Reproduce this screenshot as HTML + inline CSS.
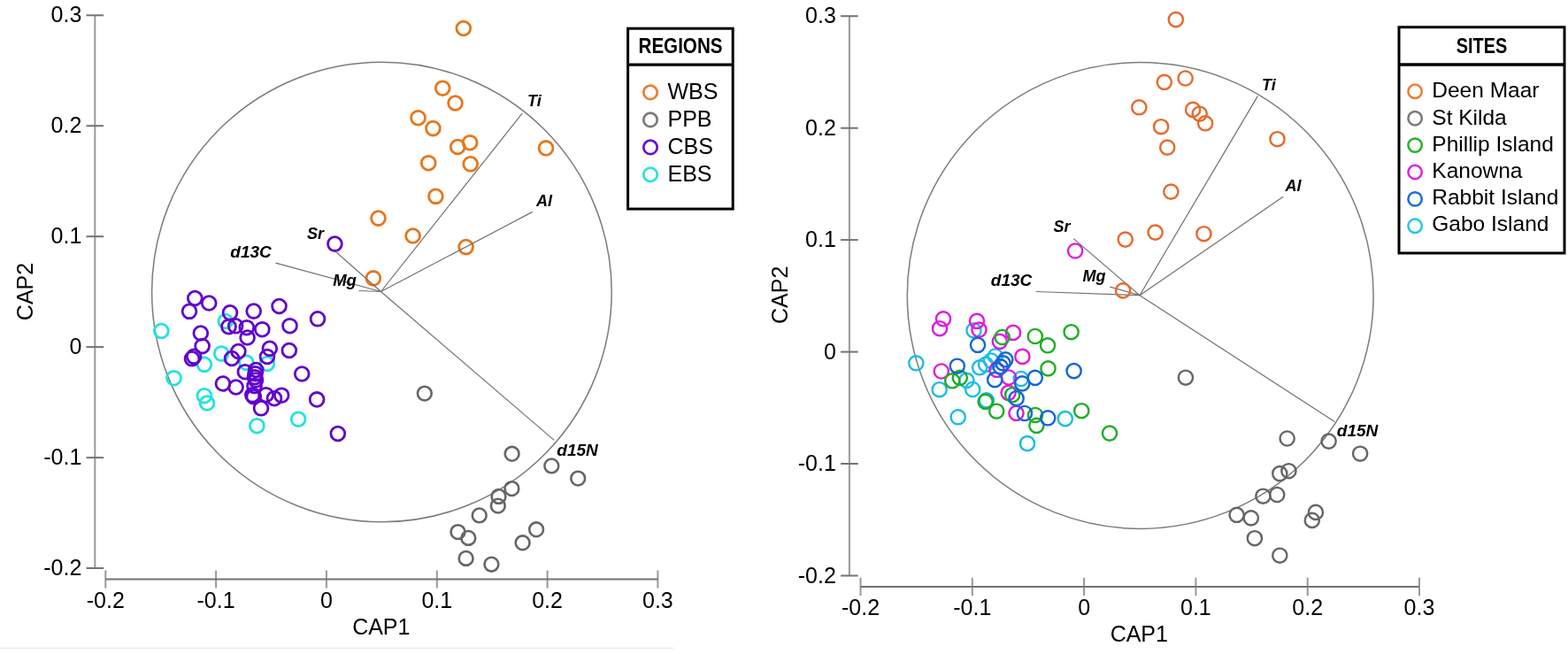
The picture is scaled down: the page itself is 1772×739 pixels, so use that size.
<!DOCTYPE html>
<html><head><meta charset="utf-8"><title>CAP ordination plots</title>
<style>html,body{margin:0;padding:0;background:#fff;}body{width:1772px;height:739px;overflow:hidden;}svg{display:block;font-family:"Liberation Sans",sans-serif;}</style>
</head><body>
<svg width="1772" height="739" viewBox="0 0 1772 739">
<rect width="1772" height="739" fill="#fff"/>
<line x1="0" y1="732.3" x2="762" y2="732.3" stroke="#ececec" stroke-width="1.2"/>
<g stroke="#999999" stroke-width="2" fill="none">
<line x1="107.3" y1="17.3" x2="107.3" y2="642"/>
<line x1="119.3" y1="644.6" x2="119.3" y2="664.6"/>
<line x1="244.1" y1="644.6" x2="244.1" y2="664.6"/>
<line x1="368.9" y1="644.6" x2="368.9" y2="664.6"/>
<line x1="493.8" y1="644.6" x2="493.8" y2="664.6"/>
<line x1="618.6" y1="644.6" x2="618.6" y2="664.6"/>
<line x1="743.4" y1="644.6" x2="743.4" y2="664.6"/>
</g>
<g stroke="#737373" stroke-width="2" fill="none">
<line x1="97.5" y1="17.3" x2="117.1" y2="17.3"/>
<line x1="97.5" y1="142.2" x2="117.1" y2="142.2"/>
<line x1="97.5" y1="267.2" x2="117.1" y2="267.2"/>
<line x1="97.5" y1="392.1" x2="117.1" y2="392.1"/>
<line x1="97.5" y1="517.1" x2="117.1" y2="517.1"/>
<line x1="97.5" y1="642" x2="117.1" y2="642"/>
<line x1="119.3" y1="654.6" x2="743.4" y2="654.6"/>
</g>
<g font-size="25" fill="#000">
<text x="92.3" y="25.3" text-anchor="end">0.3</text>
<text x="92.3" y="150.2" text-anchor="end">0.2</text>
<text x="92.3" y="275.2" text-anchor="end">0.1</text>
<text x="92.3" y="400.1" text-anchor="end">0</text>
<text x="92.3" y="525.1" text-anchor="end">-0.1</text>
<text x="92.3" y="650" text-anchor="end">-0.2</text>
<text x="119.3" y="686.7" text-anchor="middle">-0.2</text>
<text x="244.1" y="686.7" text-anchor="middle">-0.1</text>
<text x="368.9" y="686.7" text-anchor="middle">0</text>
<text x="493.8" y="686.7" text-anchor="middle">0.1</text>
<text x="618.6" y="686.7" text-anchor="middle">0.2</text>
<text x="743.4" y="686.7" text-anchor="middle">0.3</text>
</g>
<text x="430.8" y="716.8" font-size="25" text-anchor="middle">CAP1</text>
<text x="0" y="0" font-size="25" text-anchor="middle" transform="translate(37.3 329.5) rotate(-90)">CAP2</text>
<circle cx="431.4" cy="330" r="259.8" fill="none" stroke="#7c7c7c" stroke-width="1.5"/>
<g fill="none" stroke="#e8761a" stroke-width="2.8">
<circle cx="523.8" cy="32" r="7.9"/>
<circle cx="500.2" cy="99.7" r="7.9"/>
<circle cx="514.5" cy="116.5" r="7.9"/>
<circle cx="472.5" cy="133.2" r="7.9"/>
<circle cx="489.4" cy="145.1" r="7.9"/>
<circle cx="517.2" cy="166" r="7.9"/>
<circle cx="531.1" cy="161.2" r="7.9"/>
<circle cx="617" cy="167.4" r="7.9"/>
<circle cx="484.2" cy="184.2" r="7.9"/>
<circle cx="531.7" cy="185.3" r="7.9"/>
<circle cx="492.4" cy="221.8" r="7.9"/>
<circle cx="427.5" cy="246.6" r="7.9"/>
<circle cx="466.6" cy="266.5" r="7.9"/>
<circle cx="526.6" cy="279.1" r="7.9"/>
<circle cx="421.9" cy="314.4" r="7.9"/>
</g>
<g fill="none" stroke="#666666" stroke-width="2.6">
<circle cx="479.8" cy="444.6" r="7.9"/>
<circle cx="578.6" cy="512.8" r="7.9"/>
<circle cx="623.3" cy="526.4" r="7.9"/>
<circle cx="653.2" cy="540.6" r="7.9"/>
<circle cx="578.4" cy="552.1" r="7.9"/>
<circle cx="563.5" cy="560.9" r="7.9"/>
<circle cx="562.8" cy="571.6" r="7.9"/>
<circle cx="541.7" cy="582.4" r="7.9"/>
<circle cx="517.5" cy="601.1" r="7.9"/>
<circle cx="529.3" cy="607.9" r="7.9"/>
<circle cx="526.6" cy="630.9" r="7.9"/>
<circle cx="555.4" cy="637.7" r="7.9"/>
<circle cx="606.1" cy="598.3" r="7.9"/>
<circle cx="590.6" cy="613.3" r="7.9"/>
</g>
<g fill="none" stroke="#22e2e2" stroke-width="2.8">
<circle cx="182.3" cy="374" r="7.9"/>
<circle cx="254.8" cy="363" r="7.9"/>
<circle cx="250.2" cy="399.6" r="7.9"/>
<circle cx="230.9" cy="411.8" r="7.9"/>
<circle cx="196.5" cy="427.2" r="7.9"/>
<circle cx="230.9" cy="447.2" r="7.9"/>
<circle cx="234" cy="455.5" r="7.9"/>
<circle cx="278.5" cy="409.8" r="7.9"/>
<circle cx="301.9" cy="411" r="7.9"/>
<circle cx="290.4" cy="481.2" r="7.9"/>
<circle cx="337.1" cy="473.7" r="7.9"/>
</g>
<g fill="none" stroke="#6202cf" stroke-width="2.8">
<circle cx="378.4" cy="275.6" r="7.9"/>
<circle cx="220.3" cy="337" r="7.9"/>
<circle cx="236.2" cy="342.5" r="7.9"/>
<circle cx="214" cy="351.8" r="7.9"/>
<circle cx="260" cy="353.3" r="7.9"/>
<circle cx="286.7" cy="351.6" r="7.9"/>
<circle cx="315.5" cy="346" r="7.9"/>
<circle cx="359" cy="360.3" r="7.9"/>
<circle cx="258.5" cy="369.2" r="7.9"/>
<circle cx="266.2" cy="368.3" r="7.9"/>
<circle cx="278.8" cy="370.2" r="7.9"/>
<circle cx="296.3" cy="372.2" r="7.9"/>
<circle cx="327.5" cy="368.2" r="7.9"/>
<circle cx="226.8" cy="376.5" r="7.9"/>
<circle cx="279.6" cy="381.5" r="7.9"/>
<circle cx="228.6" cy="391.1" r="7.9"/>
<circle cx="269.4" cy="397" r="7.9"/>
<circle cx="304.8" cy="393.8" r="7.9"/>
<circle cx="326.8" cy="396" r="7.9"/>
<circle cx="217" cy="405.3" r="7.9"/>
<circle cx="219.2" cy="402.8" r="7.9"/>
<circle cx="262" cy="405" r="7.9"/>
<circle cx="302" cy="403" r="7.9"/>
<circle cx="276.9" cy="420.2" r="7.9"/>
<circle cx="289.3" cy="418" r="7.9"/>
<circle cx="288.5" cy="422.3" r="7.9"/>
<circle cx="288" cy="426.2" r="7.9"/>
<circle cx="289" cy="429.5" r="7.9"/>
<circle cx="287.5" cy="436" r="7.9"/>
<circle cx="285.3" cy="446.3" r="7.9"/>
<circle cx="286.8" cy="448.3" r="7.9"/>
<circle cx="251.9" cy="433.5" r="7.9"/>
<circle cx="266.6" cy="437.5" r="7.9"/>
<circle cx="295" cy="461.3" r="7.9"/>
<circle cx="300.6" cy="446.2" r="7.9"/>
<circle cx="310" cy="450.2" r="7.9"/>
<circle cx="318.2" cy="446.7" r="7.9"/>
<circle cx="341.2" cy="422.5" r="7.9"/>
<circle cx="358.1" cy="451.4" r="7.9"/>
<circle cx="381.8" cy="490" r="7.9"/>
</g>
<line x1="430.5" y1="329.5" x2="590.3" y2="127.8" stroke="#707070" stroke-width="1.2"/>
<line x1="430.5" y1="329.5" x2="601.8" y2="239.4" stroke="#707070" stroke-width="1.2"/>
<line x1="430.5" y1="329.5" x2="379.5" y2="284.5" stroke="#707070" stroke-width="1.2"/>
<line x1="430.5" y1="329.5" x2="311.5" y2="297.2" stroke="#707070" stroke-width="1.2"/>
<line x1="430.5" y1="329.5" x2="405.6" y2="328.5" stroke="#707070" stroke-width="1.2"/>
<line x1="430.5" y1="329.5" x2="626.2" y2="497.4" stroke="#707070" stroke-width="1.2"/>
<g font-weight="bold" font-style="italic" font-size="18" fill="#000">
<text x="596" y="120.3">Ti</text>
<text x="606" y="232.7">Al</text>
<text x="347" y="270">Sr</text>
<text x="260.3" y="291.1" font-size="19">d13C</text>
<text x="376.2" y="322.5" font-size="18.5">Mg</text>
<text x="629.3" y="514.8" font-size="19">d15N</text>
</g>
<rect x="709.6" y="32.2" width="118.6" height="203.9" fill="none" stroke="#000" stroke-width="3"/>
<line x1="709.6" y1="73.1" x2="828.2" y2="73.1" stroke="#000" stroke-width="3.4"/>
<text x="769" y="60.3" font-size="23" font-weight="bold" text-anchor="middle" textLength="95" lengthAdjust="spacingAndGlyphs">REGIONS</text>
<circle cx="735" cy="104.4" r="7.7" fill="none" stroke="#ed7d31" stroke-width="2.7"/>
<text x="754.5" y="111.9" font-size="25" text-anchor="start">WBS</text>
<circle cx="735" cy="135.4" r="7.7" fill="none" stroke="#7a7a7a" stroke-width="2.7"/>
<text x="754.5" y="142.8" font-size="25" text-anchor="start">PPB</text>
<circle cx="735" cy="166.4" r="7.7" fill="none" stroke="#6a0ad8" stroke-width="2.7"/>
<text x="754.5" y="173.9" font-size="25" text-anchor="start">CBS</text>
<circle cx="735" cy="197.3" r="7.7" fill="none" stroke="#22e2e2" stroke-width="2.7"/>
<text x="754.5" y="204.8" font-size="25" text-anchor="start">EBS</text>
<g stroke="#999999" stroke-width="2" fill="none">
<line x1="959.9" y1="18.2" x2="959.9" y2="650.5"/>
<line x1="972.5" y1="652.8" x2="972.5" y2="673.2"/>
<line x1="1098.8" y1="652.8" x2="1098.8" y2="673.2"/>
<line x1="1225.1" y1="652.8" x2="1225.1" y2="673.2"/>
<line x1="1351.4" y1="652.8" x2="1351.4" y2="673.2"/>
<line x1="1477.7" y1="652.8" x2="1477.7" y2="673.2"/>
<line x1="1604" y1="652.8" x2="1604" y2="673.2"/>
</g>
<g stroke="#737373" stroke-width="2" fill="none">
<line x1="950.1" y1="18.2" x2="969.7" y2="18.2"/>
<line x1="950.1" y1="144.7" x2="969.7" y2="144.7"/>
<line x1="950.1" y1="271.1" x2="969.7" y2="271.1"/>
<line x1="950.1" y1="397.6" x2="969.7" y2="397.6"/>
<line x1="950.1" y1="524" x2="969.7" y2="524"/>
<line x1="950.1" y1="650.5" x2="969.7" y2="650.5"/>
<line x1="972.5" y1="663" x2="1604" y2="663"/>
</g>
<g font-size="25" fill="#000">
<text x="944.8" y="26.2" text-anchor="end">0.3</text>
<text x="944.8" y="152.7" text-anchor="end">0.2</text>
<text x="944.8" y="279.1" text-anchor="end">0.1</text>
<text x="944.8" y="405.6" text-anchor="end">0</text>
<text x="944.8" y="532" text-anchor="end">-0.1</text>
<text x="944.8" y="658.5" text-anchor="end">-0.2</text>
<text x="972.5" y="695.4" text-anchor="middle">-0.2</text>
<text x="1098.8" y="695.4" text-anchor="middle">-0.1</text>
<text x="1225.1" y="695.4" text-anchor="middle">0</text>
<text x="1351.4" y="695.4" text-anchor="middle">0.1</text>
<text x="1477.7" y="695.4" text-anchor="middle">0.2</text>
<text x="1604" y="695.4" text-anchor="middle">0.3</text>
</g>
<text x="1287.3" y="725.4" font-size="25" text-anchor="middle">CAP1</text>
<text x="0" y="0" font-size="25" text-anchor="middle" transform="translate(889.5 333.3) rotate(-90)">CAP2</text>
<circle cx="1288.7" cy="334" r="263.4" fill="none" stroke="#7c7c7c" stroke-width="1.5"/>
<line x1="1288" y1="333.7" x2="1421.3" y2="108.6" stroke="#707070" stroke-width="1.2"/>
<line x1="1288" y1="333.7" x2="1450.1" y2="222.3" stroke="#707070" stroke-width="1.2"/>
<line x1="1288" y1="333.7" x2="1213.2" y2="269.6" stroke="#707070" stroke-width="1.2"/>
<line x1="1288" y1="333.7" x2="1170.6" y2="329.5" stroke="#707070" stroke-width="1.2"/>
<line x1="1288" y1="333.7" x2="1254.3" y2="324.2" stroke="#707070" stroke-width="1.2"/>
<line x1="1288" y1="333.7" x2="1508.3" y2="476.4" stroke="#707070" stroke-width="1.2"/>
<g fill="none" stroke="#e8692b" stroke-width="2.4">
<circle cx="1328.8" cy="22.1" r="8.1"/>
<circle cx="1315.8" cy="92.8" r="8.1"/>
<circle cx="1339.6" cy="88.5" r="8.1"/>
<circle cx="1287.3" cy="121.3" r="8.1"/>
<circle cx="1312.1" cy="143.2" r="8.1"/>
<circle cx="1319.2" cy="166.6" r="8.1"/>
<circle cx="1348.1" cy="123.9" r="8.1"/>
<circle cx="1355.7" cy="128.7" r="8.1"/>
<circle cx="1362.1" cy="139.3" r="8.1"/>
<circle cx="1443.5" cy="157.2" r="8.1"/>
<circle cx="1323.3" cy="216.6" r="8.1"/>
<circle cx="1305.6" cy="262.6" r="8.1"/>
<circle cx="1271.7" cy="270.6" r="8.1"/>
<circle cx="1360.4" cy="264.2" r="8.1"/>
<circle cx="1269.1" cy="328.4" r="8.1"/>
</g>
<g fill="none" stroke="#666666" stroke-width="2.4">
<circle cx="1339.9" cy="426.7" r="8.1"/>
<circle cx="1454.6" cy="495.5" r="8.1"/>
<circle cx="1501.6" cy="498.6" r="8.1"/>
<circle cx="1537.1" cy="512.7" r="8.1"/>
<circle cx="1446.3" cy="535.1" r="8.1"/>
<circle cx="1456.4" cy="532.2" r="8.1"/>
<circle cx="1427.4" cy="560.7" r="8.1"/>
<circle cx="1443.2" cy="559" r="8.1"/>
<circle cx="1397.6" cy="581.8" r="8.1"/>
<circle cx="1413.8" cy="585.4" r="8.1"/>
<circle cx="1417.9" cy="608.2" r="8.1"/>
<circle cx="1446.3" cy="627.7" r="8.1"/>
<circle cx="1486.9" cy="578.9" r="8.1"/>
<circle cx="1482.8" cy="587.9" r="8.1"/>
</g>
<g fill="none" stroke="#18bde4" stroke-width="2.4">
<circle cx="1035.3" cy="410.3" r="8.1"/>
<circle cx="1100.5" cy="373.4" r="8.1"/>
<circle cx="1107.2" cy="415.3" r="8.1"/>
<circle cx="1114" cy="411.8" r="8.1"/>
<circle cx="1120" cy="407.5" r="8.1"/>
<circle cx="1124.8" cy="402.5" r="8.1"/>
<circle cx="1092.4" cy="429.9" r="8.1"/>
<circle cx="1114.8" cy="452.4" r="8.1"/>
<circle cx="1061.7" cy="440.2" r="8.1"/>
<circle cx="1099.2" cy="440" r="8.1"/>
<circle cx="1153.8" cy="428" r="8.1"/>
<circle cx="1082.7" cy="471.3" r="8.1"/>
<circle cx="1203.8" cy="473.1" r="8.1"/>
<circle cx="1161" cy="501.1" r="8.1"/>
</g>
<g fill="none" stroke="#e018e0" stroke-width="2.4">
<circle cx="1066" cy="360.3" r="8.1"/>
<circle cx="1062" cy="371.2" r="8.1"/>
<circle cx="1104" cy="362.8" r="8.1"/>
<circle cx="1106.5" cy="372.6" r="8.1"/>
<circle cx="1145" cy="375.9" r="8.1"/>
<circle cx="1129.8" cy="385.8" r="8.1"/>
<circle cx="1155.4" cy="402.9" r="8.1"/>
<circle cx="1063.8" cy="419.5" r="8.1"/>
<circle cx="1126.5" cy="417.8" r="8.1"/>
<circle cx="1140" cy="426.5" r="8.1"/>
<circle cx="1139.6" cy="443.8" r="8.1"/>
<circle cx="1148.5" cy="466.8" r="8.1"/>
<circle cx="1215.1" cy="283.5" r="8.1"/>
</g>
<g fill="none" stroke="#1cae24" stroke-width="2.4">
<circle cx="1132.6" cy="381" r="8.1"/>
<circle cx="1169.8" cy="380" r="8.1"/>
<circle cx="1184" cy="390.3" r="8.1"/>
<circle cx="1210.6" cy="375.2" r="8.1"/>
<circle cx="1184.5" cy="416.4" r="8.1"/>
<circle cx="1084.8" cy="426.8" r="8.1"/>
<circle cx="1076.2" cy="430.3" r="8.1"/>
<circle cx="1113.6" cy="453.8" r="8.1"/>
<circle cx="1126.2" cy="464.7" r="8.1"/>
<circle cx="1144.1" cy="446.2" r="8.1"/>
<circle cx="1170" cy="469" r="8.1"/>
<circle cx="1171.4" cy="480.8" r="8.1"/>
<circle cx="1222.2" cy="464.2" r="8.1"/>
<circle cx="1254" cy="489.6" r="8.1"/>
</g>
<g fill="none" stroke="#1466d8" stroke-width="2.4">
<circle cx="1105" cy="389.8" r="8.1"/>
<circle cx="1081.8" cy="413.7" r="8.1"/>
<circle cx="1136.3" cy="406.3" r="8.1"/>
<circle cx="1133.5" cy="410.4" r="8.1"/>
<circle cx="1130.6" cy="414.4" r="8.1"/>
<circle cx="1124.2" cy="429.1" r="8.1"/>
<circle cx="1169.8" cy="426.8" r="8.1"/>
<circle cx="1155.2" cy="433.4" r="8.1"/>
<circle cx="1213.6" cy="419.1" r="8.1"/>
<circle cx="1148.6" cy="450.2" r="8.1"/>
<circle cx="1157.9" cy="467" r="8.1"/>
<circle cx="1184.2" cy="472.3" r="8.1"/>
</g>
<g font-weight="bold" font-style="italic" font-size="18" fill="#000">
<text x="1426" y="101.7">Ti</text>
<text x="1452.5" y="216.2">Al</text>
<text x="1190.5" y="261.7">Sr</text>
<text x="1119.8" y="323.3" font-size="19">d13C</text>
<text x="1223.5" y="318.1">Mg</text>
<text x="1510.8" y="492.7" font-size="19">d15N</text>
</g>
<rect x="1581" y="30.7" width="187" height="255.3" fill="none" stroke="#000" stroke-width="3"/>
<line x1="1581" y1="73" x2="1768" y2="73" stroke="#000" stroke-width="3.4"/>
<text x="1674.5" y="60.2" font-size="23.5" font-weight="bold" text-anchor="middle" textLength="57.5" lengthAdjust="spacingAndGlyphs">SITES</text>
<circle cx="1599.1" cy="103.3" r="7.7" fill="none" stroke="#ed7d31" stroke-width="2.5"/>
<text x="1618.3" y="110.4" font-size="24.5" text-anchor="start">Deen Maar</text>
<circle cx="1599.1" cy="133.7" r="7.7" fill="none" stroke="#7a7a7a" stroke-width="2.5"/>
<text x="1618.3" y="140.6" font-size="24.5" text-anchor="start">St Kilda</text>
<circle cx="1599.1" cy="164.1" r="7.7" fill="none" stroke="#22b422" stroke-width="2.5"/>
<text x="1618.3" y="170.8" font-size="24.5" text-anchor="start">Phillip Island</text>
<circle cx="1599.1" cy="194.5" r="7.7" fill="none" stroke="#e020e0" stroke-width="2.5"/>
<text x="1618.3" y="201" font-size="24.5" text-anchor="start">Kanowna</text>
<circle cx="1599.1" cy="224.9" r="7.7" fill="none" stroke="#1a6fd8" stroke-width="2.5"/>
<text x="1618.3" y="231.2" font-size="24.5" text-anchor="start">Rabbit Island</text>
<circle cx="1599.1" cy="255.3" r="7.7" fill="none" stroke="#20c8e8" stroke-width="2.5"/>
<text x="1618.3" y="261.4" font-size="24.5" text-anchor="start">Gabo Island</text>
</svg>
</body></html>
